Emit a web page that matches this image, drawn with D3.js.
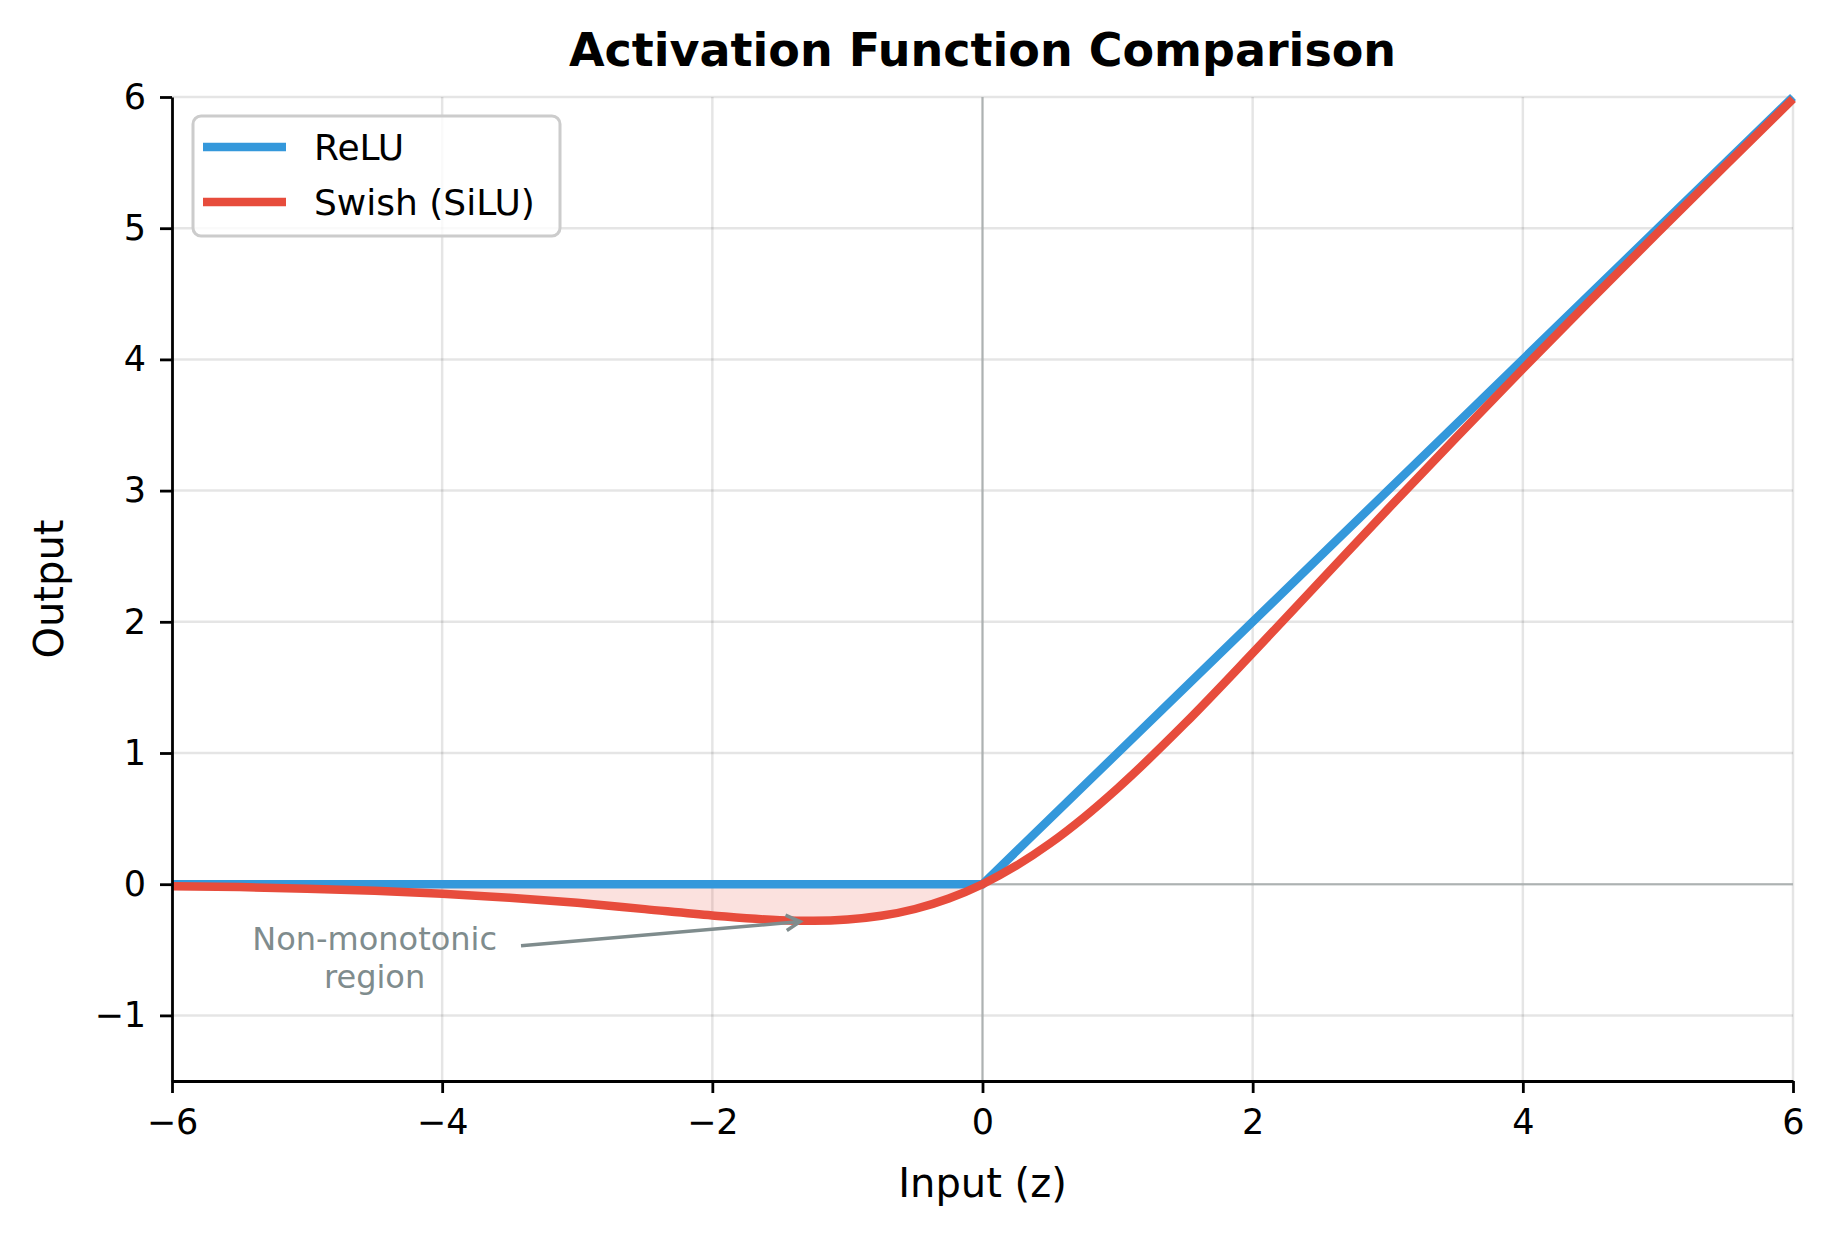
<!DOCTYPE html>
<html>
<head>
<meta charset="utf-8">
<script src="https://cdn.jsdelivr.net/npm/d3@7"></script>
<style>
  body { margin: 0; background: #fff; }
  text { font-family: "DejaVu Sans", sans-serif; }
</style>
</head>
<body>
<svg id="chart" width="1834" height="1234"></svg>
<script>
// values
const xTicks = [-6, -4, -2, 0, 2, 4, 6];
const yTicks = [-1, 0, 1, 2, 3, 4, 5, 6];

const reluX = [-6, 0, 6];
const reluY = [0, 0, 6];

const swishX = [-6, -5.5, -5, -4.5, -4, -3.5, -3, -2.5, -2, -1.5, -1.25, -1, -0.75, -0.5, -0.25, 0,
                0.25, 0.5, 0.75, 1, 1.5, 2, 2.5, 3, 3.5, 4, 4.5, 5, 5.5, 6];
const swishY = [-0.015, -0.022, -0.034, -0.049, -0.072, -0.103, -0.142, -0.19, -0.238, -0.274, -0.278, -0.269, -0.241, -0.189, -0.109, 0,
                0.141, 0.311, 0.509, 0.731, 1.226, 1.762, 2.31, 2.858, 3.397, 3.928, 4.451, 4.967, 5.478, 5.985];

const seriesNames = ["ReLU", "Swish (SiLU)"];
const seriesColors = ["#3498db", "#e74c3c"];

const margin = {left: 172, right: 41, top: 97, bottom: 153};
const W = 1834, H = 1234;
const svg = d3.select("#chart");

const x = d3.scaleLinear().domain([-6, 6]).range([margin.left, W - margin.right]);
const y = d3.scaleLinear().domain([-1.5, 6]).range([H - margin.bottom, margin.top]);

const fmt = d => (d < 0 ? "\u2212" + Math.abs(d) : "" + d);

// grid
const grid = svg.append("g");
grid.selectAll(".gx").data(xTicks).enter().append("line")
  .attr("x1", d => x(d)).attr("x2", d => x(d))
  .attr("y1", y(-1.5)).attr("y2", y(6))
  .attr("stroke", "#000").attr("stroke-opacity", 0.1).attr("stroke-width", 2.5);
grid.selectAll(".gy").data(yTicks).enter().append("line")
  .attr("x1", x(-6)).attr("x2", x(6))
  .attr("y1", d => y(d)).attr("y2", d => y(d))
  .attr("stroke", "#000").attr("stroke-opacity", 0.1).attr("stroke-width", 2.5);

// zero lines
svg.append("line").attr("x1", x(-6)).attr("x2", x(6)).attr("y1", y(0)).attr("y2", y(0))
  .attr("stroke", "#adb2b2").attr("stroke-width", 2);
svg.append("line").attr("x1", x(0)).attr("x2", x(0)).attr("y1", y(-1.5)).attr("y2", y(6))
  .attr("stroke", "#adb2b2").attr("stroke-width", 2);

// fill under swish for negative inputs
const swish = swishX.map((v, i) => ({x: v, y: swishY[i]}));
const neg = swish.filter(d => d.x <= 0);
svg.append("path").datum(neg)
  .attr("d", d3.area().x(d => x(d.x)).y0(y(0)).y1(d => y(d.y)).curve(d3.curveMonotoneX))
  .attr("fill", seriesColors[1]).attr("fill-opacity", 0.17);

// lines
const relu = reluX.map((v, i) => ({x: v, y: reluY[i]}));
const line = d3.line().x(d => x(d.x)).y(d => y(d.y));
svg.append("path").datum(relu).attr("d", line)
  .attr("fill", "none").attr("stroke", seriesColors[0]).attr("stroke-width", 8.5);
svg.append("path").datum(swish).attr("d", line.curve(d3.curveMonotoneX))
  .attr("fill", "none").attr("stroke", seriesColors[1]).attr("stroke-width", 8.5);

// axes
const xAxis = svg.append("g").attr("transform", `translate(0,${y(-1.5)})`)
  .call(d3.axisBottom(x).tickValues(xTicks).tickFormat(fmt).tickSize(12).tickPadding(16).tickSizeOuter(0));
const yAxis = svg.append("g").attr("transform", `translate(${x(-6)},0)`)
  .call(d3.axisLeft(y).tickValues(yTicks).tickFormat(fmt).tickSize(12).tickPadding(14).tickSizeOuter(0));
[xAxis, yAxis].forEach(a => {
  a.select(".domain").attr("stroke", "#000").attr("stroke-width", 2.8);
  a.selectAll(".tick line").attr("stroke", "#000").attr("stroke-width", 2.8);
  a.selectAll(".tick text").attr("font-size", 35).attr("fill", "#000")
    .style("font-family", "DejaVu Sans");
});

// annotation
const ann = svg.append("g");
const tx = x(-4.5), ty = y(-0.55);
ann.append("text").attr("x", tx).attr("y", ty - 6).attr("text-anchor", "middle")
  .attr("font-size", 32).attr("fill", "#7f8c8d").text("Non-monotonic");
ann.append("text").attr("x", tx).attr("y", ty + 32).attr("text-anchor", "middle")
  .attr("font-size", 32).attr("fill", "#7f8c8d").text("region");
const ax0 = 521, ay0 = y(-0.47), ax1 = x(-1.35), ay1 = y(-0.285);
ann.append("line").attr("x1", ax0).attr("y1", ay0).attr("x2", ax1).attr("y2", ay1)
  .attr("stroke", "#7f8c8d").attr("stroke-width", 3.5);
const ang = Math.atan2(ay1 - ay0, ax1 - ax0);
const hl = 16, hw = 0.5;
ann.append("path")
  .attr("d", `M${ax1 - hl * Math.cos(ang - hw)},${ay1 - hl * Math.sin(ang - hw)} L${ax1},${ay1} L${ax1 - hl * Math.cos(ang + hw)},${ay1 - hl * Math.sin(ang + hw)}`)
  .attr("fill", "none").attr("stroke", "#7f8c8d").attr("stroke-width", 3.5);

// legend
const lg = svg.append("g");
lg.append("rect").attr("x", 193).attr("y", 116).attr("width", 367).attr("height", 120)
  .attr("rx", 8).attr("fill", "#fff").attr("fill-opacity", 0.8)
  .attr("stroke", "#cccccc").attr("stroke-width", 3);
seriesNames.forEach((n, i) => {
  const ly = 147 + i * 55;
  lg.append("line").attr("x1", 203).attr("x2", 286).attr("y1", ly).attr("y2", ly)
    .attr("stroke", seriesColors[i]).attr("stroke-width", 8.5);
  lg.append("text").attr("x", 314).attr("y", ly).attr("dy", "0.36em")
    .attr("font-size", 36).attr("fill", "#000").text(n);
});

// titles
svg.append("text").attr("x", (x(-6) + x(6)) / 2).attr("y", 66).attr("text-anchor", "middle")
  .attr("font-size", 46).attr("font-weight", "bold").text("Activation Function Comparison");
svg.append("text").attr("x", (x(-6) + x(6)) / 2).attr("y", 1197).attr("text-anchor", "middle")
  .attr("font-size", 40).text("Input (z)");
svg.append("text").attr("transform", `translate(63,${(y(-1.5) + y(6)) / 2}) rotate(-90)`)
  .attr("text-anchor", "middle").attr("font-size", 40).text("Output");
</script>
</body>
</html>
